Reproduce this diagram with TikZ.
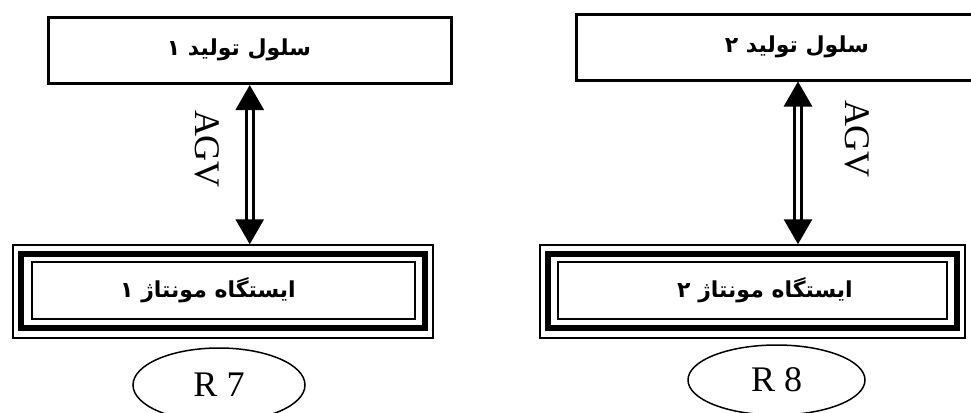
\documentclass[tikz,border=0pt]{standalone}
\usepackage{fontspec}
\setmainfont{Liberation Serif}
\newfontfamily\farsifont[Script=Arabic]{DejaVu Sans}
\TeXXeTstate=1
\usetikzlibrary{arrows.meta,positioning,shapes.geometric}

\begin{document}
\begin{tikzpicture}[x=1pt, y=-1pt,
  cellbox/.style={draw, line width=3pt, minimum height=65.5pt, inner sep=0pt},
  stationin/.style={draw, line width=2pt, minimum height=57.5pt, inner sep=0pt},
  stationmid/.style={draw, line width=6pt, minimum height=74pt, inner sep=0pt},
  stationout/.style={draw, line width=1.5pt, minimum height=93pt, inner sep=0pt},
  farsi/.style={inner sep=0pt, font=\farsifont\bfseries\fontsize{22}{26}\selectfont},
  ring/.style={draw, ellipse, line width=1.5pt, inner sep=0pt, font=\fontsize{36}{40}\selectfont},
  agvlabel/.style={rotate=-90, inner sep=0pt, font=\fontsize{36}{40}\selectfont},
  link/.style={double, double distance=4pt, line width=3pt,
    {Triangle[length=25pt,width=28pt]}-{Triangle[length=25pt,width=28pt]}}]

\useasboundingbox (0,0) rectangle (971,412);
\clip (0,0) rectangle (971,412);

% ---- cell 1 ------------------------------------------------------------------
\node[cellbox, minimum width=402.5pt] (cellA) at (249.75,50.75) {};
\node[farsi] (cellAtext) at (239,50) {\beginR سلول تولید ۱\endR};

\node[stationout, minimum width=420pt] (stAout) at (223,291.5) {};
\node[stationmid, minimum width=404pt] (stAmid) at (223,290.5) {};
\node[stationin, minimum width=383.5pt] (stAin) at (223.25,290.25) {};
\node[farsi] (stAtext) at (208,290) {\beginR ایستگاه مونتاژ ۱\endR};

\draw[link] (cellA.south) -- (cellA.south |- stAout.north);
\node[agvlabel] (agvA) at (207,149) {AGV};

\node[ring, minimum width=172pt, minimum height=74pt] (rA) at (219,385) {R 7};

% ---- cell 2 ------------------------------------------------------------------
\node[cellbox, minimum width=443pt] (cellB) at (798,47.25) {};
\node[farsi] (cellBtext) at (797,47) {\beginR سلول تولید ۲\endR};

\node[stationout, minimum width=425pt] (stBout) at (752.5,291.5) {};
\node[stationmid, minimum width=409pt] (stBmid) at (752.5,290.5) {};
\node[stationin, minimum width=389pt] (stBin) at (752.5,290.25) {};
\node[farsi] (stBtext) at (765,290) {\beginR ایستگاه مونتاژ ۲\endR};

\draw[link] (cellB.south) -- (cellB.south |- stBout.north);
\node[agvlabel] (agvB) at (857,139) {AGV};

\node[ring, minimum width=177pt, minimum height=70pt] (rB) at (776.5,380) {R 8};

\end{tikzpicture}
\end{document}
